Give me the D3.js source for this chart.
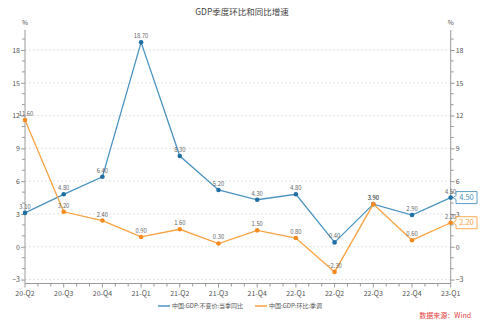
<!DOCTYPE html>
<html>
<head>
<meta charset="utf-8">
<script src="https://cdn.jsdelivr.net/npm/d3@7"></script>
<style>
  html, body { margin: 0; padding: 0; background: #fff; }
  svg { display: block; font-family: "Noto Sans CJK SC", "Noto Sans", sans-serif; }
</style>
</head>
<body>
<svg id="chart" width="485" height="324"></svg>
<script>
// Quarters on the x axis
const quarters = ["20-Q2","20-Q3","20-Q4","21-Q1","21-Q2","21-Q3","21-Q4","22-Q1","22-Q2","22-Q3","22-Q4","23-Q1"];
// GDP constant price, year-on-year (%)
const yoy = [3.10, 4.80, 6.40, 18.70, 8.30, 5.20, 4.30, 4.80, 0.40, 3.90, 2.90, 4.50];
// GDP quarter-on-quarter, seasonally adjusted (%)
const qoq = [11.60, 3.20, 2.40, 0.90, 1.60, 0.30, 1.50, 0.80, -2.30, 3.90, 0.60, 2.20];
// Labelled y ticks
const yTicks = [-3, 0, 3, 6, 9, 12, 15, 18];

const seriesNames = ["中国:GDP:不变价:当季同比", "中国:GDP:环比:季调"];
const lineColors = ["#4b93c0", "#f9a240"];
const dotColors = ["#1f6fa3", "#f78b1f"];

const svg = d3.select("#chart");
const plotLeft = 25, plotRight = 450.7, plotTop = 30, plotBottom = 283.5;

const x = d3.scalePoint().domain(quarters).range([plotLeft, plotRight]);
const y = d3.scaleLinear().domain([-3.36, 19.83]).range([plotBottom, plotTop]);

const axisColor = "#9a9a9a";
const textColor = "#555";

// Title
svg.append("text").attr("x", 242).attr("y", 15).attr("text-anchor", "middle")
  .attr("font-size", 8.5).attr("fill", "#444").text("GDP季度环比和同比增速");

// Unit labels
svg.append("text").attr("x", plotLeft).attr("y", 25).attr("text-anchor", "middle")
  .attr("font-size", 6.5).attr("fill", textColor).text("%");
svg.append("text").attr("x", plotRight).attr("y", 25).attr("text-anchor", "middle")
  .attr("font-size", 6.5).attr("fill", textColor).text("%");

// Dashed horizontal grid
svg.append("g").selectAll("line").data(yTicks).join("line")
  .attr("x1", plotLeft).attr("x2", plotRight)
  .attr("y1", d => y(d)).attr("y2", d => y(d))
  .attr("stroke", "#dcdcdc").attr("stroke-width", 0.8).attr("stroke-dasharray", "2,2");

// Minor tick values (every 1 unit)
const minorTicks = d3.range(-3, 20).filter(v => !yTicks.includes(v));

// Left axis
const leftAxis = d3.axisLeft(y).tickValues(yTicks).tickSize(4).tickPadding(1).tickFormat(d3.format("d"));
const gL = svg.append("g").attr("transform", `translate(${plotLeft},0)`).call(leftAxis);
gL.append("g").selectAll("line").data(minorTicks).join("line")
  .attr("x1", -3).attr("x2", 0).attr("y1", d => y(d)).attr("y2", d => y(d));

// Right axis
const rightAxis = d3.axisRight(y).tickValues(yTicks).tickSize(4).tickPadding(1).tickFormat(d3.format("d"));
const gR = svg.append("g").attr("transform", `translate(${plotRight},0)`).call(rightAxis);
gR.append("g").selectAll("line").data(minorTicks).join("line")
  .attr("x1", 0).attr("x2", 3).attr("y1", d => y(d)).attr("y2", d => y(d));

[gL, gR].forEach(g => {
  g.select(".domain").remove();
  g.append("line").attr("x1", 0).attr("x2", 0).attr("y1", plotTop).attr("y2", plotBottom)
    .attr("stroke", axisColor).attr("stroke-width", 1);
  g.selectAll("line").attr("stroke", axisColor);
  g.selectAll("text").attr("fill", textColor).attr("font-size", 7)
    .attr("font-family", "'Noto Sans CJK SC', sans-serif");
});

// Bottom axis with minor ticks at thirds of a quarter
const step = x.step();
const gX = svg.append("g").attr("transform", `translate(0,${plotBottom})`);
gX.append("line").attr("x1", plotLeft).attr("x2", plotRight).attr("y1", 0).attr("y2", 0)
  .attr("stroke", axisColor).attr("stroke-width", 1);
const thirdTicks = [];
quarters.forEach((q, i) => {
  if (i < quarters.length - 1) {
    thirdTicks.push(x(q) + step / 3, x(q) + 2 * step / 3);
  }
});
gX.append("g").selectAll("line").data(quarters).join("line")
  .attr("x1", d => x(d)).attr("x2", d => x(d)).attr("y1", 0).attr("y2", 4)
  .attr("stroke", axisColor);
gX.append("g").selectAll("line").data(thirdTicks).join("line")
  .attr("x1", d => d).attr("x2", d => d).attr("y1", 0).attr("y2", 3)
  .attr("stroke", axisColor);
gX.append("g").selectAll("text").data(quarters).join("text")
  .attr("x", d => x(d)).attr("y", 12).attr("text-anchor", "middle")
  .attr("font-size", 7).attr("fill", textColor).text(d => d);

// Lines, markers and value labels
const fmt = d3.format(".2f");
[yoy, qoq].forEach((vals, s) => {
  const pts = vals.map((v, i) => [x(quarters[i]), y(v), v]);
  svg.append("path").datum(pts)
    .attr("d", d3.line().x(d => d[0]).y(d => d[1]))
    .attr("fill", "none").attr("stroke", lineColors[s]).attr("stroke-width", 1.3);
  svg.append("g").selectAll("circle").data(pts).join("circle")
    .attr("cx", d => d[0]).attr("cy", d => d[1]).attr("r", 2.3)
    .attr("fill", dotColors[s]);
});
[yoy, qoq].forEach((vals, s) => {
  svg.append("g").selectAll("text").data(vals).join("text")
    .attr("x", (d, i) => x(quarters[i]) + (i === 0 && s === 1 ? 1 : 0))
    .attr("y", d => y(d) - 4)
    .attr("text-anchor", "middle").attr("font-size", 5.8).attr("fill", "#666")
    .text(d => fmt(d));
});

// Callouts for the latest values on the right axis
[yoy, qoq].forEach((vals, s) => {
  const v = vals[vals.length - 1];
  const cy = y(v);
  const bx = 456, bw = 21, bh = 12;
  const p = d3.path();
  p.moveTo(bx, cy - bh / 2);
  p.lineTo(bx + bw, cy - bh / 2);
  p.lineTo(bx + bw, cy + bh / 2);
  p.lineTo(bx, cy + bh / 2);
  p.lineTo(bx, cy + 2);
  p.lineTo(bx - 3, cy);
  p.lineTo(bx, cy - 2);
  p.closePath();
  svg.append("path").attr("d", p.toString())
    .attr("fill", "#fff").attr("stroke", lineColors[s]).attr("stroke-width", 0.9);
  svg.append("text").attr("x", bx + bw / 2).attr("y", cy + 2.6)
    .attr("text-anchor", "middle").attr("font-size", 7.5).attr("fill", lineColors[s])
    .text(fmt(v));
});

// Legend
const legend = svg.append("g").attr("transform", "translate(0,306)");
const legendItems = [{x: 158, w: 12}, {x: 255, w: 12}];
seriesNames.forEach((name, s) => {
  const it = legendItems[s];
  legend.append("line").attr("x1", it.x).attr("x2", it.x + it.w).attr("y1", 0).attr("y2", 0)
    .attr("stroke", lineColors[s]).attr("stroke-width", 1.5);
  legend.append("text").attr("x", it.x + it.w + 2).attr("y", 2.2)
    .attr("font-size", 6).attr("fill", "#555").text(name);
});

// Source note
svg.append("text").attr("x", 471).attr("y", 318).attr("text-anchor", "end")
  .attr("font-size", 7).attr("fill", "#e04040").text("数据来源：Wind");
</script>
</body>
</html>
